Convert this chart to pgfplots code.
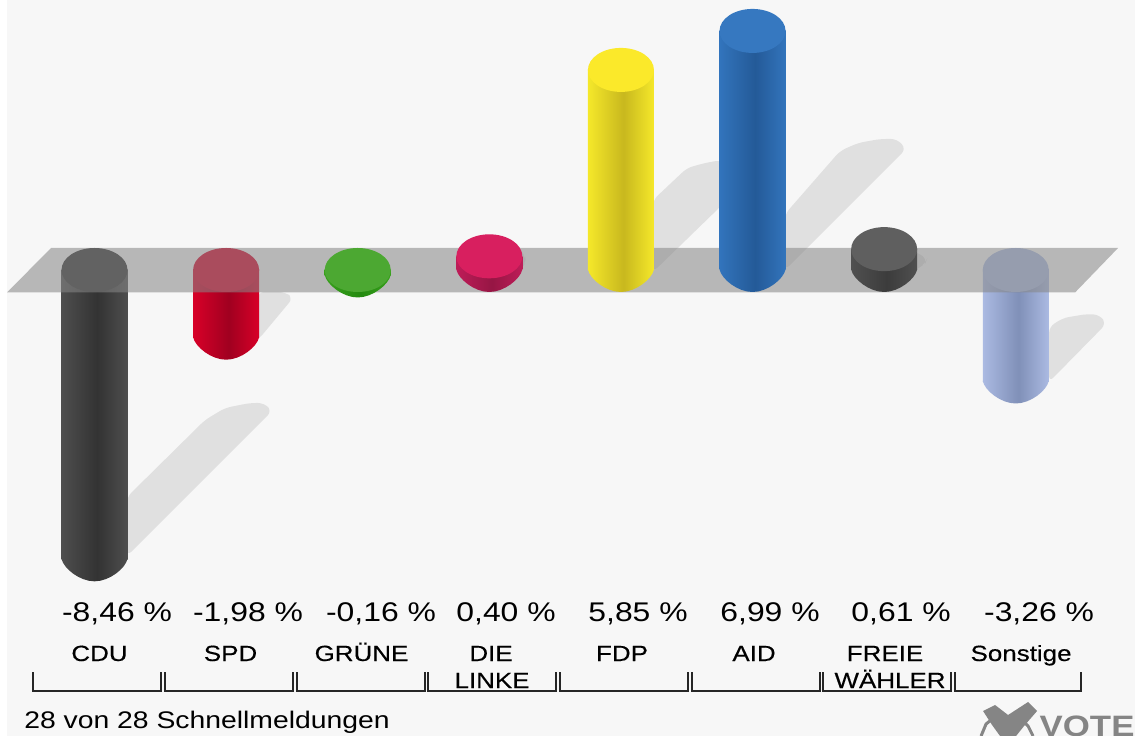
\documentclass[border=0pt]{standalone}
\usepackage{fontspec}
\setmainfont[FakeStretch=1.18]{Liberation Sans}
\newfontfamily\labfont[FakeStretch=1.18,FakeBold=0.3]{Liberation Sans}
\usepackage{pgfplots}
\pgfplotsset{compat=1.18}

\definecolor{bg}{HTML}{F7F7F7}
\definecolor{shadow}{HTML}{E0E0E0}

% one shading and one rounded end per party
\newcommand\cyl[3]{%
  \pgfdeclarehorizontalshading{sh#1}{100bp}{color(0bp)=(#2); color(25bp)=(#2); color(52bp)=(#3); color(75bp)=(#2); color(100bp)=(#2)}%
  \pgfdeclareplotmark{end#1}{%
    \pgfpathmoveto{\pgfpoint{-33pt}{0.5pt}}%
    \pgfpathcurveto{\pgfpoint{-31pt}{-9pt}}{\pgfpoint{-15pt}{-22pt}}{\pgfpoint{0pt}{-22pt}}%
    \pgfpathcurveto{\pgfpoint{15pt}{-22pt}}{\pgfpoint{31pt}{-9pt}}{\pgfpoint{33pt}{0.5pt}}%
    \pgfpathclose
    \pgfshadepath{sh#1}{0}\pgfusepath{discard}}%
}
\definecolor{cduE}{HTML}{4E4E4E}\definecolor{cduC}{HTML}{333333}
\definecolor{spdE}{HTML}{D80028}\definecolor{spdC}{HTML}{A00020}
\definecolor{grnE}{HTML}{38A01C}\definecolor{grnC}{HTML}{248A10}\definecolor{grnT}{HTML}{4CA832}
\definecolor{lnkE}{HTML}{BE1C58}\definecolor{lnkC}{HTML}{961644}\definecolor{lnkT}{HTML}{D81F5F}
\definecolor{fdpE}{HTML}{F5E82A}\definecolor{fdpC}{HTML}{C8B81E}\definecolor{fdpT}{HTML}{FBE92A}
\definecolor{aidE}{HTML}{3274BC}\definecolor{aidC}{HTML}{245A98}\definecolor{aidT}{HTML}{3678C0}
\definecolor{frwE}{HTML}{505050}\definecolor{frwC}{HTML}{3C3C3C}\definecolor{frwT}{HTML}{5F5F5F}
\definecolor{sonE}{HTML}{ABBAE2}\definecolor{sonC}{HTML}{8090B8}
\cyl{cdu}{cduE}{cduC}\cyl{spd}{spdE}{spdC}\cyl{grn}{grnE}{grnC}\cyl{lnk}{lnkE}{lnkC}
\cyl{fdp}{fdpE}{fdpC}\cyl{aid}{aidE}{aidC}\cyl{frw}{frwE}{frwC}\cyl{son}{sonE}{sonC}
\pgfdeclareplotmark{flat}{\pgfpathellipse{\pgfpointorigin}{\pgfpoint{33pt}{0pt}}{\pgfpoint{0pt}{22pt}}\pgfusepathqfill}

\pgfplotsset{
  px/.style={x filter/.expression={(x-94.5)/131.6}, y filter/.expression={(270-y)/34.2}},
  body/.style={ybar, bar width=66pt, bar shift=0pt, draw=none, shade, shading=sh#1},
  base/.style={only marks, mark=end#1},
  top/.style={only marks, mark=flat, mark options={draw=none, fill=#1}},
  shad/.style={px, draw=none, fill=shadow, rounded corners=6pt, forget plot},
  brk/.style={px, black!85, line width=1.6pt},
}
% x and baseline in pixels of the reference
\newcommand\lab[4][\fontsize{22}{24}\labfont]{\node[font=#1, inner sep=0pt, anchor=base] at (axis cs:{(#2-94.5)/131.6},{(270-#3)/34.2}) {#4};}
\newcommand\val{\fontsize{27}{30}\selectfont}

\begin{document}
\begin{tikzpicture}
\clip (0,0) rectangle (1135pt,736pt);
\begin{axis}[
  at={(0,0)}, anchor=south west,
  scale only axis, width=1135pt, height=736pt,
  xmin=-0.7181, xmax=7.9065,
  ymin=-13.6257, ymax=7.8947,
  hide axis, clip mode=individual,
]
  % background, page has a white strip on the left
  \addplot[px, draw=none, fill=bg] coordinates {(7,0) (1135,0) (1135,736) (7,736)} -- cycle;

  % shadows (pixel positions)
  \addplot[shad] coordinates {(127,497) (205,420) (225,408) (250,403) (264,403) (272,411) (127,556)} -- cycle;
  \addplot[shad] coordinates {(258,292) (285,292) (293,298) (258,340)} -- cycle;
  \addplot[shad] coordinates {(653,200) (687,168) (705,163) (722,160) (722,205) (653,272)} -- cycle;
  \addplot[shad] coordinates {(785,214) (840,151) (858,143) (880,139) (897,139) (906,149) (785,270)} -- cycle;
  \addplot[shad] coordinates {(1049,327) (1063,318) (1087,314) (1100,315) (1106,324) (1049,382)} -- cycle;
  \addplot[shad] coordinates {(515,250) (520,250) (525,256) (526,262) (522,268) (515,274)} -- cycle;
  \addplot[shad] coordinates {(910,250) (918,253) (927,259) (925,264) (918,268) (910,275)} -- cycle;

  % bars going down lie below the plane
  \addplot[body=cdu, mark=endcdu] coordinates {(0,-8.46)};
  \addplot[top=cduC] coordinates {(0,0)};
  \addplot[body=spd, mark=endspd] coordinates {(1,-1.98)};
  \addplot[top=spdE] coordinates {(1,0)};
  \addplot[body=son, mark=endson] coordinates {(7,-3.26)};
  \addplot[top=sonE] coordinates {(7,0)};

  % plane at zero
  \addplot[px, draw=none, fill=black!47, fill opacity=0.566] coordinates {(7,292.5) (1075,292.5) (1118,248) (51,248)} -- cycle;

  % bars going up, and the very short green one
  \addplot[body=grn, mark=endgrn] coordinates {(2,-0.16)};
  \addplot[top=grnT] coordinates {(2,0)};

  \addplot[base=lnk] coordinates {(3,0)};
  \addplot[body=lnk] coordinates {(3,0.40)};
  \addplot[top=lnkT] coordinates {(3,0.40)};

  \addplot[base=fdp] coordinates {(4,0)};
  \addplot[body=fdp] coordinates {(4,5.85)};
  \addplot[top=fdpT] coordinates {(4,5.85)};

  \addplot[base=aid] coordinates {(5,0)};
  \addplot[body=aid] coordinates {(5,6.99)};
  \addplot[top=aidT] coordinates {(5,6.99)};

  \addplot[base=frw] coordinates {(6,0)};
  \addplot[body=frw] coordinates {(6,0.61)};
  \addplot[top=frwT] coordinates {(6,0.61)};

  % brackets under the names
  \addplot[brk] coordinates {(33,672) (33,691) (161,691) (161,672)};
  \addplot[brk] coordinates {(165,672) (165,691) (293,691) (293,672)};
  \addplot[brk] coordinates {(297,672) (297,691) (425,691) (425,672)};
  \addplot[brk] coordinates {(428,672) (428,691) (556,691) (556,672)};
  \addplot[brk] coordinates {(560,672) (560,691) (688,691) (688,672)};
  \addplot[brk] coordinates {(692,672) (692,691) (820,691) (820,672)};
  \addplot[brk] coordinates {(823,672) (823,691) (951,691) (951,672)};
  \addplot[brk] coordinates {(955,672) (955,691) (1081,691) (1081,672)};

  % logo
  \addplot[px, draw=none, fill=black!48] coordinates {(983,711) (995,705) (1008,715) (1028,702) (1037,711) (1024,726) (1016,736) (1000,736) (992,725)} -- cycle;
  \addplot[px, black!48, line width=3pt] coordinates {(981,736) (986,724) (996,716)};
  \addplot[px, black!48, line width=3pt] coordinates {(1033,736) (1028,726) (1022,720)};

  \lab[\val]{117}{622}{-8,46 \%}
  \lab[\val]{248}{622}{-1,98 \%}
  \lab[\val]{381}{622}{-0,16 \%}
  \lab[\val]{506}{622}{0,40 \%}
  \lab[\val]{638}{622}{5,85 \%}
  \lab[\val]{770}{622}{6,99 \%}
  \lab[\val]{901}{622}{0,61 \%}
  \lab[\val]{1039}{622}{-3,26 \%}
  \lab{99.5}{661}{CDU}
  \lab{230.5}{661}{SPD}
  \lab{361.5}{661}{GRÜNE}
  \lab{491}{661}{DIE}
  \lab{492}{688}{LINKE}
  \lab{622}{661}{FDP}
  \lab{754}{661}{AID}
  \lab{885}{661}{FREIE}
  \lab{890}{688}{WÄHLER}
  \lab{1021}{661}{Sonstige}
  \lab[\fontsize{24}{26}\selectfont]{207}{729}{28 von 28 Schnellmeldungen}
  \lab[\fontsize{29.5}{30}\bfseries\color{black!48}\selectfont]{1087}{736}{VOTE}
\end{axis}
\end{tikzpicture}
\end{document}
